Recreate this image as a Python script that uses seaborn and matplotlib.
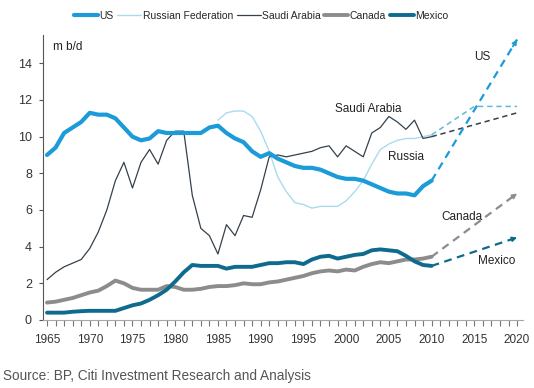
import matplotlib.pyplot as plt
import matplotlib.ticker as mticker
from matplotlib.lines import Line2D
import seaborn as sns

# Oil production, m b/d
years = list(range(1965, 2011))
us = [9.0, 9.4, 10.2, 10.5, 10.8, 11.3, 11.2, 11.2, 11.0, 10.5,
      10.0, 9.8, 9.9, 10.3, 10.2, 10.2, 10.2, 10.2, 10.2, 10.5,
      10.6, 10.2, 9.9, 9.7, 9.2, 8.9, 9.1, 8.8, 8.6, 8.4,
      8.3, 8.3, 8.2, 8.0, 7.8, 7.7, 7.7, 7.6, 7.4, 7.2,
      7.0, 6.9, 6.9, 6.8, 7.3, 7.6]
saudi = [2.2, 2.6, 2.9, 3.1, 3.3, 3.9, 4.8, 6.0, 7.6, 8.6,
         7.2, 8.6, 9.3, 8.5, 9.8, 10.3, 10.3, 6.8, 5.0, 4.6,
         3.6, 5.2, 4.6, 5.7, 5.6, 7.1, 8.9, 9.0, 8.9, 9.0,
         9.1, 9.2, 9.4, 9.5, 8.9, 9.5, 9.2, 8.9, 10.2, 10.5,
         11.1, 10.8, 10.4, 10.9, 9.9, 10.0]
canada = [0.95, 1.0, 1.1, 1.2, 1.35, 1.5, 1.6, 1.85, 2.15, 2.0,
          1.75, 1.65, 1.65, 1.65, 1.85, 1.8, 1.65, 1.65, 1.7, 1.8,
          1.85, 1.85, 1.9, 2.0, 1.95, 1.95, 2.05, 2.1, 2.2, 2.3,
          2.4, 2.55, 2.65, 2.7, 2.65, 2.75, 2.7, 2.9, 3.05, 3.15,
          3.1, 3.2, 3.3, 3.3, 3.35, 3.45]
mexico = [0.4, 0.4, 0.4, 0.45, 0.48, 0.5, 0.5, 0.5, 0.5, 0.65,
          0.8, 0.9, 1.1, 1.35, 1.65, 2.1, 2.6, 3.0, 2.95, 2.95,
          2.95, 2.8, 2.9, 2.9, 2.9, 3.0, 3.1, 3.1, 3.15, 3.15,
          3.05, 3.3, 3.45, 3.5, 3.35, 3.45, 3.55, 3.6, 3.8, 3.85,
          3.8, 3.75, 3.5, 3.2, 3.0, 2.95]
russia_years = list(range(1985, 2011))
russia = [10.9, 11.3, 11.4, 11.4, 11.1, 10.3, 9.2, 7.8, 7.0, 6.4,
          6.3, 6.1, 6.2, 6.2, 6.2, 6.5, 7.0, 7.6, 8.5, 9.3,
          9.6, 9.8, 9.9, 9.9, 10.0, 10.1]

# Projections to 2020 (dashed)
proj_years = [2010, 2020]
us_proj = [7.6, 15.3]
saudi_proj = [10.0, 11.3]
canada_proj = [3.45, 6.9]
mexico_proj = [2.95, 4.5]
russia_proj_years = [2010, 2015, 2020]
russia_proj = [10.1, 11.65, 11.65]

c_us = "#1b9bd7"
c_ru = "#a9dbef"
c_ru_proj = "#5fb8de"
c_sa = "#35414b"
c_ca = "#8c8c8c"
c_mx = "#0f6b8e"

sns.set_style("white")
plt.rcParams["font.family"] = ["Liberation Sans", "DejaVu Sans"]

fig = plt.figure(figsize=(5.34, 3.88), dpi=100)
ax = fig.add_axes([0.0805, 0.1753, 0.8985, 0.7347])

sns.lineplot(x=russia_years, y=russia, ax=ax, color=c_ru, linewidth=1.0)
sns.lineplot(x=years, y=saudi, ax=ax, color=c_sa, linewidth=0.9)
sns.lineplot(x=years, y=canada, ax=ax, color=c_ca, linewidth=2.8)
sns.lineplot(x=years, y=mexico, ax=ax, color=c_mx, linewidth=2.8)
sns.lineplot(x=years, y=us, ax=ax, color=c_us, linewidth=3.0)

dash = (3.5, 2.5)
sns.lineplot(x=russia_proj_years, y=russia_proj, ax=ax, color=c_ru_proj,
             linewidth=1.1).lines[-1].set_dashes(dash)
sns.lineplot(x=proj_years, y=saudi_proj, ax=ax, color=c_sa,
             linewidth=1.1).lines[-1].set_dashes(dash)
for vals, col in [(us_proj, c_us), (canada_proj, c_ca), (mexico_proj, c_mx)]:
    sns.lineplot(x=proj_years, y=vals, ax=ax, color=col, linewidth=1.6).lines[-1].set_dashes(dash)
    # arrow head at the end of the projection
    slope = (vals[1] - vals[0]) / (proj_years[1] - proj_years[0])
    ax.annotate("", xy=(proj_years[1], vals[1]),
                xytext=(proj_years[1] - 0.5, vals[1] - 0.5 * slope),
                arrowprops=dict(arrowstyle="-|>", color=col, lw=1.2,
                                mutation_scale=7, shrinkA=0, shrinkB=0))

ax.set_xlim(1964.53, 2020.67)
ax.set_ylim(0, 15.55)
ax.set_yticks(range(0, 15, 2))
ax.xaxis.set_major_locator(mticker.MultipleLocator(5))
ax.xaxis.set_minor_locator(mticker.MultipleLocator(1))
ax.set_xlabel("")
ax.set_ylabel("")

for s in ["top", "right"]:
    ax.spines[s].set_visible(False)
ax.spines["left"].set_color("#555555")
ax.spines["bottom"].set_color("#a8a8a8")
ax.tick_params(axis="y", direction="out", length=3, width=0.8, color="#555555",
               pad=5, labelsize=9, labelcolor="#333333", left=True)
ax.tick_params(axis="x", which="both", direction="out", length=4, width=0.8,
               color="#777777", bottom=True)
ax.tick_params(axis="x", which="major", pad=6, labelsize=8.5, labelcolor="#333333")

txt = dict(fontsize=8.5, color="#222222", va="center")
ax.text(1965.7, 14.9, "m b/d", **txt)
ax.text(2015.0, 14.35, "US", **txt)
ax.text(1998.7, 11.5, "Saudi Arabia", **txt)
ax.text(2004.9, 8.9, "Russia", **txt)
ax.text(2011.2, 5.62, "Canada", **txt)
ax.text(2015.4, 3.2, "Mexico", **txt)

handles = [Line2D([], [], color=c_us, lw=3.0),
           Line2D([], [], color=c_ru, lw=1.0),
           Line2D([], [], color=c_sa, lw=0.9),
           Line2D([], [], color=c_ca, lw=2.8),
           Line2D([], [], color=c_mx, lw=2.8)]
labels = ["US", "Russian Federation", "Saudi Arabia", "Canada", "Mexico"]
fig.legend(handles, labels, loc="center", bbox_to_anchor=(0.489, 0.96), ncol=5,
           frameon=False, fontsize=7.5, handlelength=2.3, handletextpad=0.15,
           columnspacing=0.35, borderaxespad=0, borderpad=0)

fig.text(0.006, 1 - 376 / 388, "Source: BP, Citi Investment Research and Analysis",
         fontsize=9.8, color="#555555", va="center", ha="left")

fig.savefig("out.png", dpi=100)
